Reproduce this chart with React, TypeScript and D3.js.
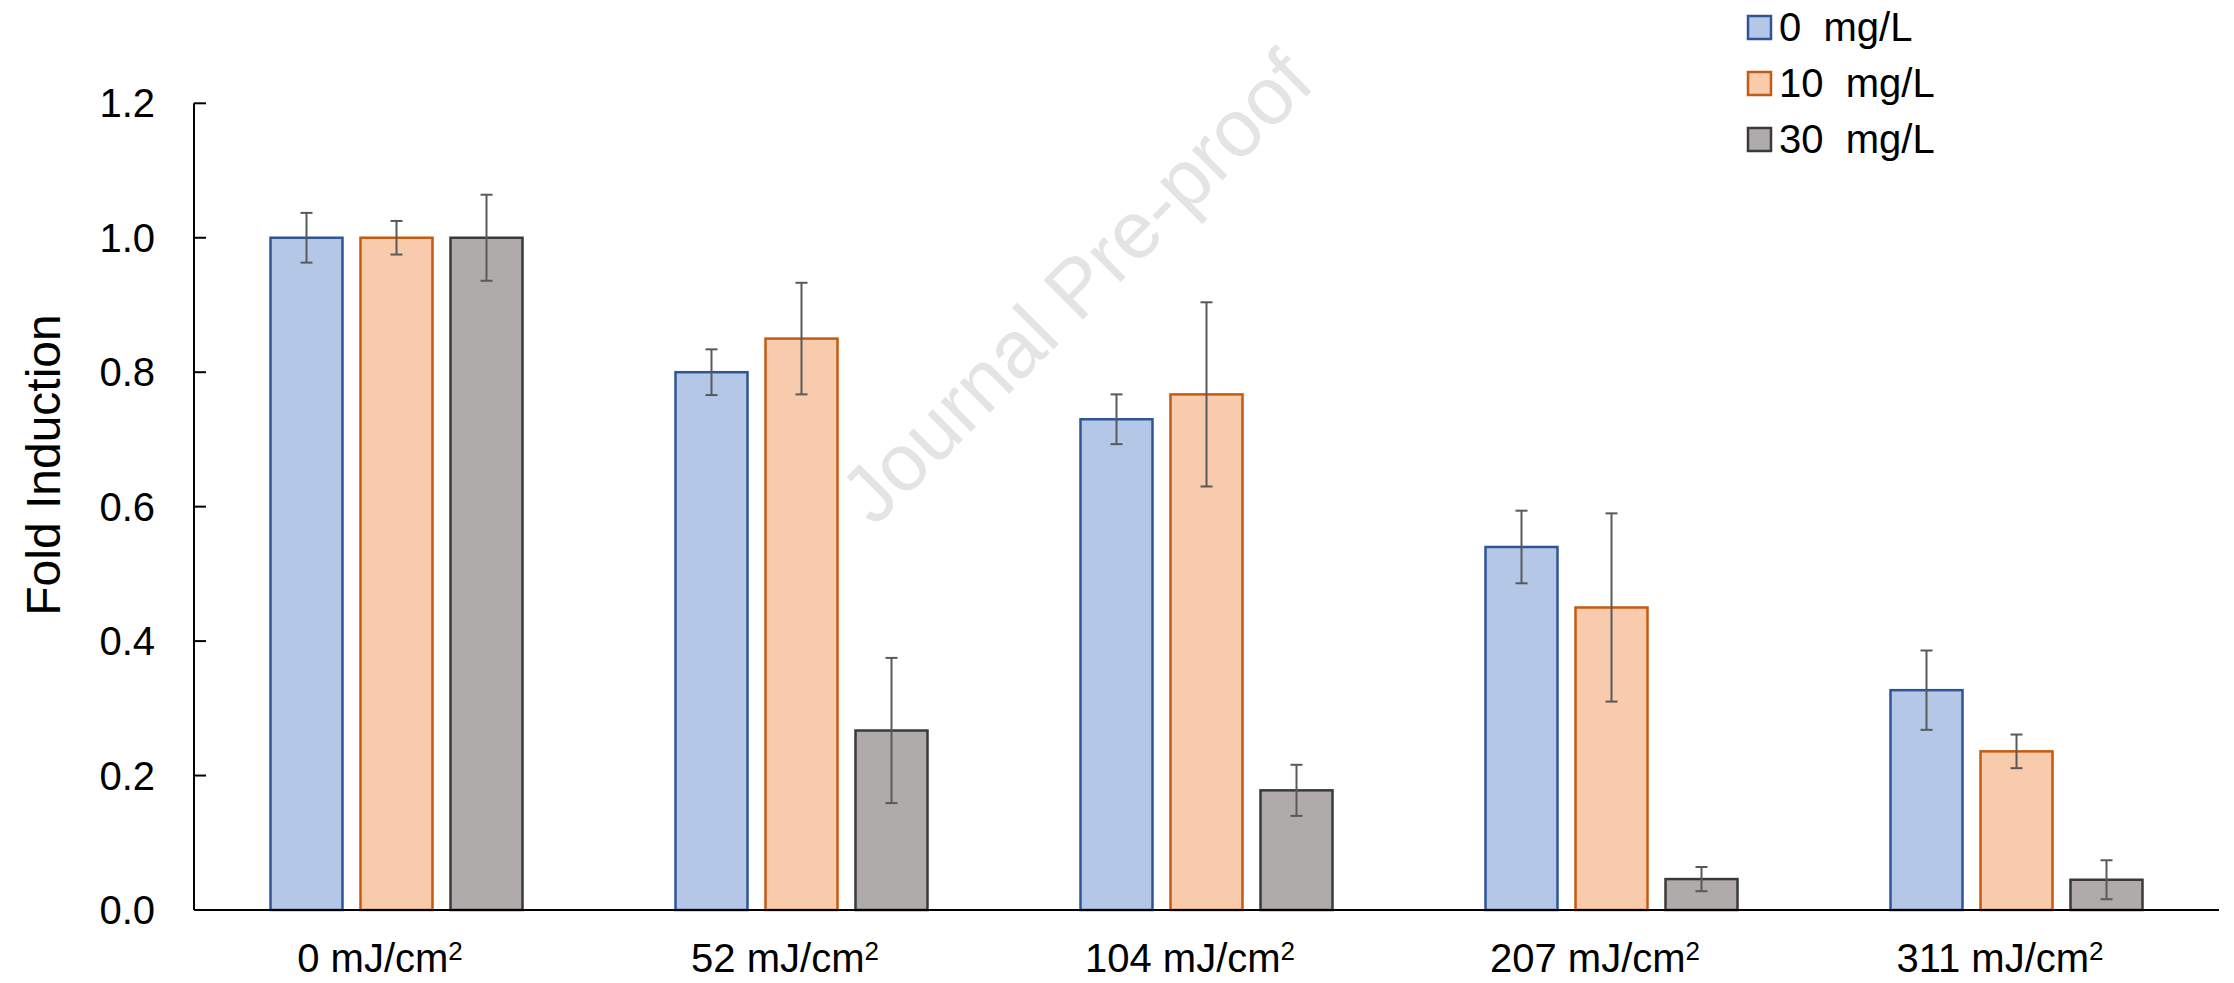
import React from "react";
import * as d3 from "d3";

const categories = ["0", "52", "104", "207", "311"];
const seriesNames = ["0  mg/L", "10  mg/L", "30  mg/L"];
const s0 = [1.0, 0.8, 0.73, 0.54, 0.327];
const e0 = [0.037, 0.034, 0.037, 0.054, 0.059];
const s10 = [1.0, 0.85, 0.767, 0.45, 0.236];
const e10 = [0.025, 0.083, 0.137, 0.14, 0.025];
const s30 = [1.0, 0.267, 0.178, 0.046, 0.045];
const e30 = [0.064, 0.108, 0.038, 0.018, 0.029];
const yTicks = [0, 0.2, 0.4, 0.6, 0.8, 1.0, 1.2];

const fills = ["#B4C7E7", "#F8CBAD", "#AFABAB"];
const strokes = ["#2F5597", "#C55A11", "#3A3A3A"];
const FONT = "'Liberation Sans', Arial, Helvetica, sans-serif";

export default function App() {
  const W = 2234, H = 983;
  const x0 = 194, x1 = 2219, yTop = 103.3, yBot = 910;
  const x = d3.scaleBand<string>().domain(categories).range([x0, x1]).padding(0);
  const inner = d3.scaleBand<number>().domain([0, 1, 2]).range([-135, 135]).paddingInner(0.2).paddingOuter(0.1);
  const y = d3.scaleLinear().domain([0, 1.2]).range([yBot, yTop]);
  const series = [
    { v: s0, e: e0 },
    { v: s10, e: e10 },
    { v: s30, e: e30 },
  ];
  const cap = 6;

  return (
    <svg width={W} height={H} style={{ position: "absolute", left: 0, top: 0, background: "#fff" }} fontFamily={FONT}>
      <rect x={0} y={0} width={W} height={H} fill="#fff" />
      {/* watermark */}
      <text
        transform="translate(1076,287) rotate(-45)"
        textAnchor="middle"
        dominantBaseline="central"
        fontSize={81}
        fill="#E4E4E4"
      >
        Journal Pre-proof
      </text>
      {/* bars */}
      {series.map((s, si) =>
        categories.map((c, ci) => {
          const cx = (x(c) as number) + x.bandwidth() / 2;
          const bx = cx + (inner(si) as number);
          const bw = inner.bandwidth();
          const top = y(s.v[ci]);
          return (
            <rect
              key={`b${si}-${ci}`}
              x={bx}
              y={top}
              width={bw}
              height={yBot - top}
              fill={fills[si]}
              stroke={strokes[si]}
              strokeWidth={2.5}
            />
          );
        })
      )}
      {/* error bars */}
      {series.map((s, si) =>
        categories.map((c, ci) => {
          const cx = (x(c) as number) + x.bandwidth() / 2;
          const ex = cx + (inner(si) as number) + inner.bandwidth() / 2;
          const hi = y(s.v[ci] + s.e[ci]);
          const lo = y(s.v[ci] - s.e[ci]);
          return (
            <g key={`e${si}-${ci}`} stroke="#595959" strokeWidth={2}>
              <line x1={ex} x2={ex} y1={hi} y2={lo} />
              <line x1={ex - cap} x2={ex + cap} y1={hi} y2={hi} />
              <line x1={ex - cap} x2={ex + cap} y1={lo} y2={lo} />
            </g>
          );
        })
      )}
      {/* axes */}
      <line x1={x0} x2={x0} y1={yTop} y2={yBot} stroke="#000" strokeWidth={2} />
      <line x1={x0} x2={x1} y1={yBot} y2={yBot} stroke="#000" strokeWidth={2} />
      {yTicks.map((t) => (
        <g key={`t${t}`}>
          {t > 0 && <line x1={x0} x2={x0 + 12} y1={y(t)} y2={y(t)} stroke="#000" strokeWidth={2} />}
          <text x={155} y={y(t) + 14} textAnchor="end" fontSize={40} fill="#000">
            {t.toFixed(1)}
          </text>
        </g>
      ))}
      {categories.map((c) => {
        const cx = (x(c) as number) + x.bandwidth() / 2;
        return (
          <text key={`l${c}`} x={cx - 16.5} y={972} textAnchor="middle" fontSize={40} fill="#000">
            <tspan>{c} mJ/cm</tspan>
            <tspan fontSize={26} dy={-12}>2</tspan>
          </text>
        );
      })}
      <text transform="translate(60,465) rotate(-90)" textAnchor="middle" fontSize={48} fill="#000">
        Fold Induction
      </text>
      {/* legend */}
      {seriesNames.map((n, i) => (
        <g key={`lg${i}`}>
          <rect x={1748} y={16 + i * 56} width={23} height={23} fill={fills[i]} stroke={strokes[i]} strokeWidth={2.5} />
          <text x={1779} y={41 + i * 56} fontSize={40} fill="#000" style={{ whiteSpace: "pre" }}>
            {n}
          </text>
        </g>
      ))}
    </svg>
  );
}
